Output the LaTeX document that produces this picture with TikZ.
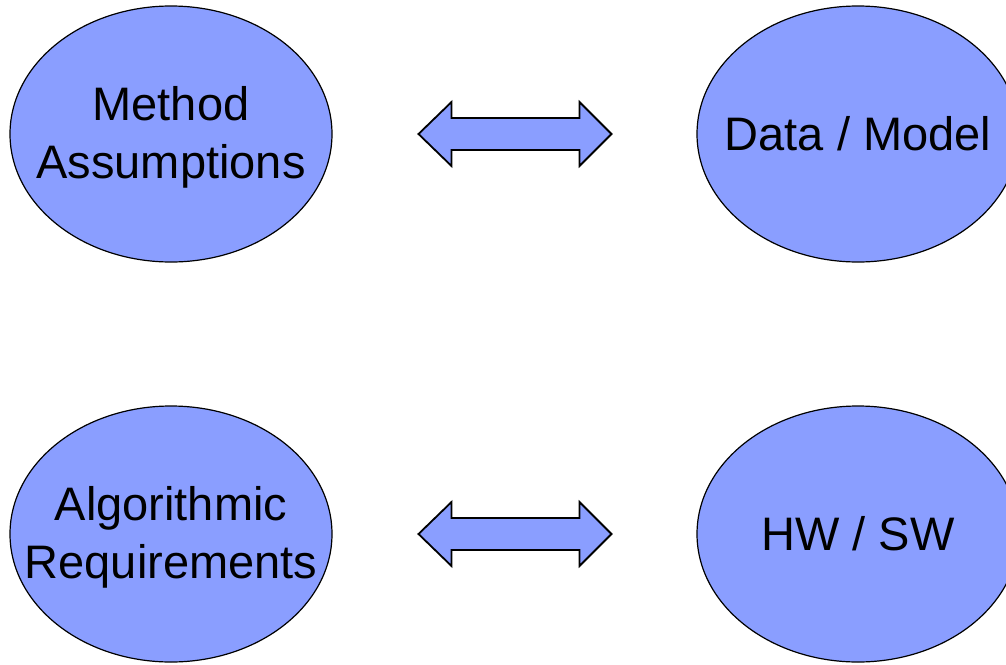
\documentclass[tikz,border=0pt]{standalone}
\usepackage{fontspec}
\setmainfont{Liberation Sans}
\usetikzlibrary{shapes.geometric,calc}
\definecolor{bubble}{RGB}{138,158,255}
\tikzset{
  topic/.style={ellipse, draw=black, line width=1.2pt, fill=bubble,
    minimum width=322pt, minimum height=256pt, inner sep=0pt},
  caption/.style={align=center, inner sep=0pt,
    font=\fontsize{47}{58}\selectfont},
  link/.style={draw=black, line width=1.8pt, fill=bubble, line join=miter}
}
% two-headed block arrow centred on a coordinate
\newcommand{\blockarrow}[1]{%
  \draw[link] ($(#1)+(-96,0)$) -- ++(33,-32) -- ++(0,16) -- ++(128,0)
    -- ++(0,-16) -- ++(32,32) -- ++(-32,32) -- ++(0,-16) -- ++(-128,0)
    -- ++(0,16) -- cycle;}
\begin{document}
\begin{tikzpicture}[x=1pt,y=-1pt]
  \useasboundingbox (0,0) rectangle (1006,664);
  \clip (0,0) rectangle (1006,664);
  \node[topic] (method) at (171,134) {};
  \node[topic] (data)   at (858,134) {};
  \node[topic] (algo)   at (171,534) {};
  \node[topic] (hwsw)   at (858,534) {};
  \node[caption] at ($(method)+(0,3)$) {Method\\Assumptions};
  \node[caption] at (data) {Data / Model};
  \node[caption] at ($(algo)+(0,3)$) {Algorithmic\\Requirements};
  \node[caption] at (hwsw) {HW / SW};
  \coordinate (top) at (514.5,134);
  \coordinate (bottom) at (514.5,534);
  \blockarrow{top}
  \blockarrow{bottom}
\end{tikzpicture}
\end{document}
